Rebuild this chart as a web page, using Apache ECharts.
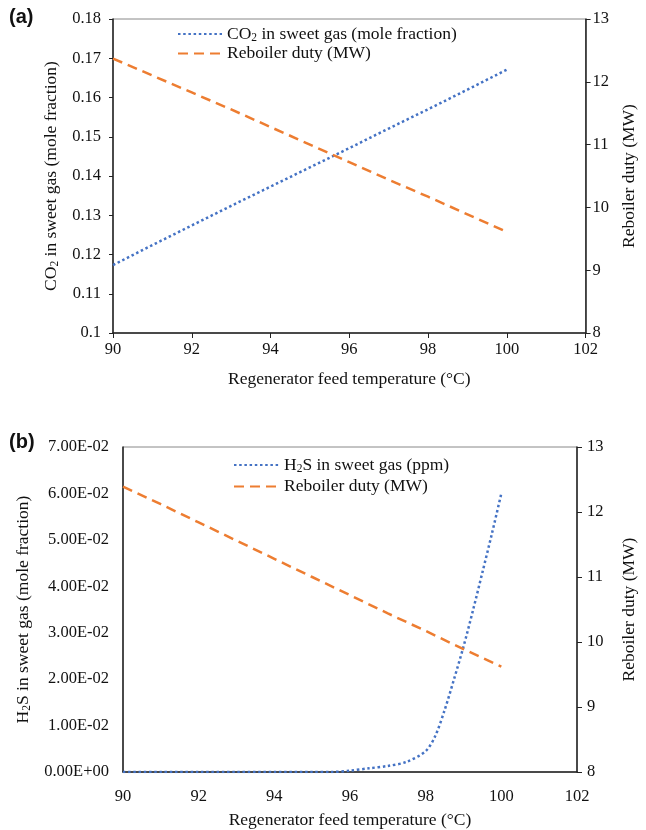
<!DOCTYPE html>
<html><head><meta charset="utf-8">
<script src="https://cdn.jsdelivr.net/npm/echarts@6/dist/echarts.min.js"></script>
<style>html,body{margin:0;padding:0;background:#fff}#c{width:646px;height:830px}</style>
</head><body><div id="c"></div>
<script>
// Panel (a)
const tempA = [90, 91, 92, 93, 94, 95, 96, 97, 98, 99, 100];
const co2A = [0.1173, 0.1224, 0.1274, 0.1324, 0.1373, 0.1422, 0.1471, 0.1521, 0.1570, 0.1620, 0.1671];
const dutyA = [12.37, 12.10, 11.83, 11.56, 11.28, 11.00, 10.72, 10.44, 10.17, 9.89, 9.61];
// Panel (b)
const tempB = [90, 91, 92, 93, 94, 95, 95.5, 96, 96.5, 97, 97.5, 98, 98.25, 98.5, 98.75, 99, 99.25, 99.5, 99.75, 100];
const h2sB = [0, 0, 0, 0, 0, 0, 0, 0.0003, 0.0008, 0.0013, 0.0022, 0.0045, 0.0077, 0.0133, 0.0200, 0.0270, 0.0348, 0.0430, 0.0513, 0.0600];
const tempDutyB = [90, 91, 92, 93, 94, 95, 96, 97, 98, 99, 100];
const dutyB = [12.39, 12.12, 11.84, 11.56, 11.28, 11.00, 10.72, 10.44, 10.17, 9.89, 9.62];
const xTicks = [90, 102, 2];

const zip = (a, b) => a.map((v, i) => [v, b[i]]);
const SERIF = 'Liberation Serif';
const AX = '#222';
const BLUE = '#4472C4', ORANGE = '#ED7D31';
const sub = { s: { fontFamily: SERIF, fontSize: 11.5, color: '#111', verticalAlign: 'bottom', padding: [7, 0, 0, 0] } };
const lbl = { fontFamily: SERIF, fontSize: 16.5, color: '#111' };
const ttl = { fontFamily: SERIF, fontSize: 17.5, color: '#111' };
function sci(v) {
  if (v === 0) return '0.00E+00';
  let e = Math.floor(Math.log10(Math.abs(v)) + 1e-9);
  let m = v / Math.pow(10, e);
  let es = (e < 0 ? '-' : '+') + String(Math.abs(e)).padStart(2, '0');
  return m.toFixed(2) + 'E' + es;
}
const legendNames = {
  co2: 'CO{s|2} in sweet gas (mole fraction)',
  duty: 'Reboiler duty (MW)',
  h2s: 'H{s|2}S in sweet gas (ppm)',
  duty2: 'Reboiler duty (MW)'
};
const dotted = { color: BLUE, width: 2.5, type: [2.5, 2.7] };
const dashed = { color: ORANGE, width: 2.5, type: [10, 6] };

const chart = echarts.init(document.getElementById('c'), null, { renderer: 'canvas' });
chart.setOption({
  animation: false,
  backgroundColor: '#fff',
  graphic: [
    { type: 'text', left: 9, top: 7, style: { text: '(a)', font: 'bold 20px "Liberation Sans"', fill: '#111' } },
    { type: 'text', left: 9, top: 432, style: { text: '(b)', font: 'bold 20px "Liberation Sans"', fill: '#111' } }
  ],
  grid: [
    { left: 113, right: 50, top: 19, height: 314, show: true, borderColor: '#888', borderWidth: 1 },
    { left: 123, right: 62, top: 447, height: 326, show: true, borderColor: '#888', borderWidth: 1 }
  ],
  legend: [
    { orient: 'vertical', left: 172, top: 20, itemWidth: 44, itemHeight: 12, itemGap: 1, data: ['co2', 'duty'],
      itemStyle: { opacity: 0 },
      formatter: n => legendNames[n], textStyle: Object.assign({}, ttl, { rich: sub }) },
    { orient: 'vertical', left: 228, top: 451, itemWidth: 45, itemHeight: 12, itemGap: 3, data: ['h2s', 'duty2'],
      itemStyle: { opacity: 0 },
      formatter: n => legendNames[n], textStyle: Object.assign({}, ttl, { rich: sub }) }
  ],
  xAxis: [
    { type: 'value', gridIndex: 0, min: xTicks[0], max: xTicks[1], interval: xTicks[2],
      axisLine: { lineStyle: { color: AX, width: 1.5 } }, axisTick: { show: true, inside: false, length: 5, lineStyle: { color: AX } },
      splitLine: { show: false }, axisLabel: Object.assign({ margin: 8 }, lbl),
      name: 'Regenerator feed temperature (°C)', nameLocation: 'middle', nameGap: 37, nameTextStyle: ttl },
    { type: 'value', gridIndex: 1, min: xTicks[0], max: xTicks[1], interval: xTicks[2],
      axisLine: { lineStyle: { color: AX, width: 1.5 } }, axisTick: { show: false },
      splitLine: { show: false }, axisLabel: Object.assign({ margin: 16 }, lbl),
      name: 'Regenerator feed temperature (°C)', nameLocation: 'middle', nameGap: 39, nameTextStyle: ttl }
  ],
  yAxis: [
    { type: 'value', gridIndex: 0, min: 0.1, max: 0.18, interval: 0.01, position: 'left',
      axisLine: { show: true, lineStyle: { color: AX, width: 1.5 } }, axisTick: { show: true, length: 4, lineStyle: { color: AX } },
      splitLine: { show: false }, axisLabel: Object.assign({ margin: 12 }, lbl),
      name: 'CO{s|2} in sweet gas (mole fraction)', nameLocation: 'middle', nameGap: 44,
      nameTextStyle: Object.assign({}, ttl, { rich: sub }) },
    { type: 'value', gridIndex: 0, min: 8, max: 13, interval: 1, position: 'right',
      axisLine: { show: true, lineStyle: { color: AX, width: 1.5 } }, axisTick: { show: true, length: 5, lineStyle: { color: AX } },
      splitLine: { show: false }, axisLabel: Object.assign({ margin: 7 }, lbl),
      name: 'Reboiler duty (MW)', nameLocation: 'middle', nameGap: 33, nameRotate: 90, nameTextStyle: ttl },
    { type: 'value', gridIndex: 1, min: 0, max: 0.07, interval: 0.01, position: 'left',
      axisLine: { show: true, lineStyle: { color: AX, width: 1.5 } }, axisTick: { show: false },
      splitLine: { show: false }, axisLabel: Object.assign({ margin: 14, formatter: sci }, lbl),
      name: 'H{s|2}S in sweet gas (mole fraction)', nameLocation: 'middle', nameGap: 90,
      nameTextStyle: Object.assign({}, ttl, { rich: sub }) },
    { type: 'value', gridIndex: 1, min: 8, max: 13, interval: 1, position: 'right',
      axisLine: { show: true, lineStyle: { color: AX, width: 1.5 } }, axisTick: { show: true, length: 5, lineStyle: { color: AX } },
      splitLine: { show: false }, axisLabel: Object.assign({ margin: 10 }, lbl),
      name: 'Reboiler duty (MW)', nameLocation: 'middle', nameGap: 43, nameRotate: 90, nameTextStyle: ttl }
  ],
  series: [
    { name: 'co2', type: 'line', xAxisIndex: 0, yAxisIndex: 0, data: zip(tempA, co2A), showSymbol: false, symbol: 'none', lineStyle: dotted, itemStyle: { color: BLUE } },
    { name: 'duty', type: 'line', xAxisIndex: 0, yAxisIndex: 1, data: zip(tempA, dutyA), showSymbol: false, symbol: 'none', lineStyle: dashed, itemStyle: { color: ORANGE } },
    { name: 'h2s', type: 'line', xAxisIndex: 1, yAxisIndex: 2, data: zip(tempB, h2sB), smooth: 0.3, showSymbol: false, symbol: 'none', lineStyle: dotted, itemStyle: { color: BLUE } },
    { name: 'duty2', type: 'line', xAxisIndex: 1, yAxisIndex: 3, data: zip(tempDutyB, dutyB), showSymbol: false, symbol: 'none', lineStyle: dashed, itemStyle: { color: ORANGE } }
  ]
});
</script></body></html>
